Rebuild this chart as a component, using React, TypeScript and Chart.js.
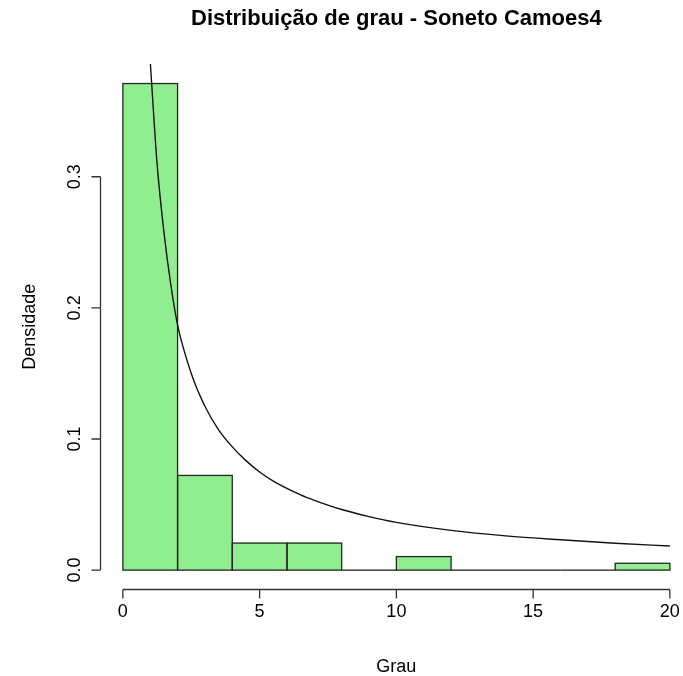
import { useEffect, useRef } from "react";
import { Chart, registerables } from "chart.js";

Chart.register(...registerables);

// Histogram of node degree (bins of width 2) with a fitted power-law density curve.
const binEdges = [0, 2, 4, 6, 8, 10, 12, 14, 16, 18, 20];
const densities = [0.3711, 0.0722, 0.0206, 0.0206, 0, 0.0103, 0, 0, 0, 0.0052];

const fitX = [1, 1.25, 1.5, 1.75, 2, 2.5, 3, 3.5, 4, 4.5, 5, 5.5, 6.5, 7, 8, 9, 10, 12, 14, 16, 18, 20];
const fitY = [0.388, 0.31, 0.258, 0.218, 0.187, 0.15, 0.125, 0.107, 0.094, 0.0835, 0.0748, 0.0678, 0.0573, 0.0532, 0.0462, 0.0408, 0.0364, 0.0303, 0.0261, 0.0231, 0.0205, 0.0184];

const xTicks = [0, 5, 10, 15, 20];
const xTickLabels = ["0", "5", "10", "15", "20"];
const yTicks = [0, 0.1, 0.2, 0.3];
const yTickLabels = ["0.0", "0.1", "0.2", "0.3"];

const chartTitle = "Distribuição de grau - Soneto Camoes4";
const xTitle = "Grau";
const yTitle = "Densidade";

const FONT = '"Liberation Sans", Arial, Helvetica, sans-serif';
const INK = "#000000";
const AXIS_INK = "#333333";

// Draws base-graphics style axes, bar outlines and titles.
const baseAxesPlugin = {
  id: "baseAxes",
  afterDatasetDraw(chart: any, args: any) {
    if (args.meta.type !== "bar") return;
    const ctx = chart.ctx as CanvasRenderingContext2D;
    ctx.save();
    ctx.strokeStyle = "#262626";
    ctx.lineWidth = 1.3;
    args.meta.data.forEach((el: any) => {
      const { x, y, base, width } = el.getProps(["x", "y", "base", "width"], true);
      ctx.strokeRect(x - width / 2, Math.min(y, base), width, Math.abs(base - y));
    });
    ctx.restore();
  },
  afterDraw(chart: any) {
    const ctx = chart.ctx as CanvasRenderingContext2D;
    const xs = chart.scales.x;
    const ys = chart.scales.y;
    const area = chart.chartArea;
    const tick = 9;

    ctx.save();
    ctx.strokeStyle = AXIS_INK;
    ctx.lineWidth = 1.3;

    // x axis
    const axY = area.bottom;
    ctx.beginPath();
    ctx.moveTo(xs.getPixelForValue(xTicks[0]), axY);
    ctx.lineTo(xs.getPixelForValue(xTicks[xTicks.length - 1]), axY);
    xTicks.forEach((v) => {
      const px = xs.getPixelForValue(v);
      ctx.moveTo(px, axY);
      ctx.lineTo(px, axY + tick);
    });
    ctx.stroke();

    // y axis
    const axX = area.left - 0.5;
    ctx.beginPath();
    ctx.moveTo(axX, ys.getPixelForValue(yTicks[0]));
    ctx.lineTo(axX, ys.getPixelForValue(yTicks[yTicks.length - 1]));
    yTicks.forEach((v) => {
      const py = ys.getPixelForValue(v);
      ctx.moveTo(axX, py);
      ctx.lineTo(axX - tick, py);
    });
    ctx.stroke();

    ctx.fillStyle = INK;
    ctx.font = `18px ${FONT}`;
    ctx.textBaseline = "alphabetic";
    ctx.textAlign = "center";
    xTicks.forEach((v, i) => {
      ctx.fillText(xTickLabels[i], xs.getPixelForValue(v), 617);
    });
    yTicks.forEach((v, i) => {
      ctx.save();
      ctx.translate(80, ys.getPixelForValue(v));
      ctx.rotate(-Math.PI / 2);
      ctx.fillText(yTickLabels[i], 0, 0);
      ctx.restore();
    });

    // axis titles
    const midX = (xs.getPixelForValue(xTicks[0]) + xs.getPixelForValue(xTicks[xTicks.length - 1])) / 2;
    ctx.fillText(xTitle, midX, 671.5);
    ctx.save();
    ctx.translate(35, (area.top + area.bottom) / 2);
    ctx.rotate(-Math.PI / 2);
    ctx.fillText(yTitle, 0, 0);
    ctx.restore();

    // main title
    ctx.font = `bold 22px ${FONT}`;
    ctx.fillText(chartTitle, midX, 25);
    ctx.restore();
  },
};

export default function App() {
  const canvasRef = useRef<HTMLCanvasElement | null>(null);

  useEffect(() => {
    const canvas = canvasRef.current;
    if (!canvas) return;

    const barData = densities.map((d, i) => ({ x: (binEdges[i] + binEdges[i + 1]) / 2, y: d }));
    const curveData = fitX.map((x, i) => ({ x, y: fitY[i] }));

    const chart = new Chart(canvas, {
      type: "bar",
      data: {
        datasets: [
          {
            type: "line",
            data: curveData,
            borderColor: "#111111",
            borderWidth: 1.4,
            pointRadius: 0,
            fill: false,
            cubicInterpolationMode: "monotone",
            order: 0,
          } as any,
          {
            type: "bar",
            data: barData,
            backgroundColor: "#90EE90",
            borderWidth: 0,
            barThickness: "flex",
            barPercentage: 1,
            categoryPercentage: 1,
            order: 1,
          } as any,
        ],
      },
      options: {
        animation: false,
        responsive: false,
        events: [],
        layout: { padding: { left: 101, right: 0, top: 64, bottom: 86.5 } },
        plugins: {
          legend: { display: false },
          tooltip: { enabled: false },
          title: { display: false },
        },
        scales: {
          x: { type: "linear", min: -0.8, max: 20.48, offset: false, display: false },
          y: { type: "linear", min: -0.0148, max: 0.386, display: false },
        },
      },
      plugins: [baseAxesPlugin],
    });

    return () => chart.destroy();
  }, []);

  return (
    <div style={{ position: "fixed", left: 0, top: 0, width: 683, height: 676, background: "#ffffff" }}>
      <canvas ref={canvasRef} width={683} height={676} style={{ display: "block" }} />
    </div>
  );
}
